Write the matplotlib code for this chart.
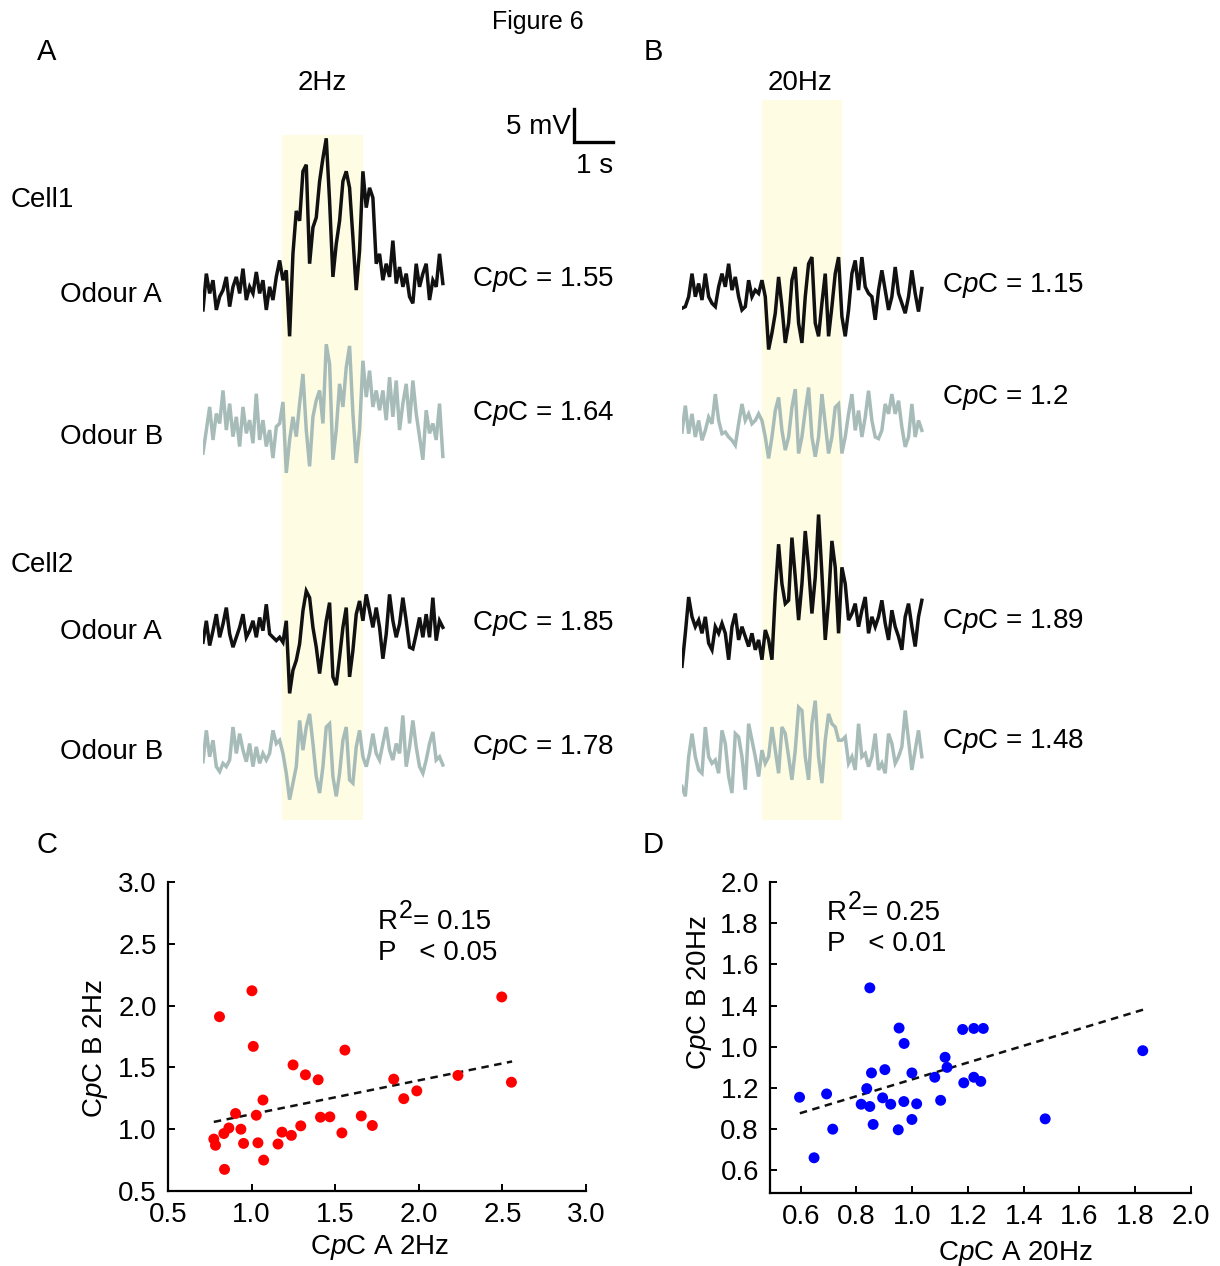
import numpy as np
import matplotlib
matplotlib.use("Agg")
import matplotlib.pyplot as plt

plt.rcParams['font.family'] = ['Liberation Sans', 'DejaVu Sans']
plt.rcParams['mathtext.fontset'] = 'custom'
plt.rcParams['mathtext.rm'] = 'Liberation Sans'
plt.rcParams['mathtext.it'] = 'Liberation Sans:italic'

# ---- membrane potential traces (mV relative to resting level), ~6.15 s each ----
trace_len = 6.15
a_cell1_odA = [-3.0, 2.5, -0.5, 1.5, -3.0, -1.0, 0, 2.0, -2.5, 0.5, 2.0, -0.5, 3.25, -1.5, 0.5,
               -0.5, 2.75, -0.5, 1.5, -3.0, 0.5, -1.5, 2.0, 4.5, 1.5, 3.0, -7.0, 5.5, 12.0, 10.5,
               18.0, 19.0, 4.0, 9.5, 11.0, 16.5, 20.0, 23.0, 13.5, 2.0, 7.0, 10.5, 16.5, 18.0, 15.5,
               8.0, 0, 6.0, 18.0, 12.5, 15.5, 14.0, 4.0, 5.5, 1.5, 4.0, 2.0, 7.5, 1.0, 3.5,
               0.5, 2.5, -1.0, -2.0, 4.0, 0.5, 2.5, 4.0, -1.5, 1.5, 0.5, 5.5, 1.0]
a_cell1_odB = [-3.5, 0, 3.5, -1.5, 2.5, 1.0, 6.0, 0, 4.0, -1.0, 2.0, -2.5, 3.5, -0.5, 1.5,
               -2.0, 5.5, -1.5, 1.5, -2.5, 0, -4.25, 0.5, 1.0, 4.25, -6.5, -1.5, 2.0, -1.0, 4.0,
               8.5, 0, -5.5, 2.0, 4.5, 6.0, 1.0, 13.0, 10.0, -4.5, 0, 7.0, 3.5, 9.5, 12.75,
               2.5, -5.0, 0, 10.5, 5.0, 9.0, 3.5, 6.0, 3.0, 6.0, 1.5, 8.0, 2.0, 7.5, 0,
               4.0, 7.0, 1.0, 7.5, 2.5, -1.0, -4.5, 3.0, -0.5, 1.0, -1.5, 4.0, -4.0]
a_cell2_odA = [-0.75, 2.5, -1.25, 1.0, 3.5, 0, 2.0, 4.5, 0.5, -1.5, 0, 1.5, 3.5, 0, 1.0,
               2.5, 0, 3.0, 1.0, 5.0, 0.5, 0, -0.5, 0, -0.75, 2.5, -8.5, -5.0, -3.5, -1.0,
               4.0, 7.0, 6.0, 1.5, -1.5, -5.5, -1.5, 2.5, 5.25, -6.0, -7.25, -3.0, 1.5, 4.5, -6.0,
               -2.0, 3.5, 5.5, 2.5, 6.5, 4.0, 1.5, 4.5, 1.5, -3.25, 0.5, 6.5, 2.5, 0, 2.0,
               6.0, 2.5, -1.5, -1.75, 0.5, 3.0, 0, 3.5, 0, 6.0, -0.5, 2.5, 1.5]
a_cell2_odB = [-0.75, 4.0, 0, 2.5, -1.5, -2.25, -1.0, -1.5, -0.5, 4.5, 0.5, 3.5, 1.0, -0.75, 2.0,
               -1.5, 1.5, -1.0, 0.5, -0.5, 0.5, 4.0, 2.0, 2.5, 0.5, -2.5, -6.5, -4.0, -1.5, 5.5,
               1.0, 4.5, 6.5, 2.0, -3.0, -5.5, -1.5, 4.5, 5.0, -3.0, -6.0, -2.5, 2.5, 4.5, -3.5,
               -4.0, 1.5, 4.0, 0, -1.5, 0.5, 3.5, 0.5, -0.5, 2.0, 4.5, 1.0, -0.5, 2.0, 0.5,
               6.25, -1.5, 1.5, 5.5, 1.5, -1.5, -2.5, -0.5, 2.0, 3.75, -0.5, 0, -1.25]
b_cell1_odA = [-1.75, -1.5, 0, 3.5, 0, 2.0, -0.5, 3.5, 0, -1.0, -1.5, 1.5, 3.5, 1.5, 5.0,
               1.0, 3.0, 0, -2.0, -1.5, 2.5, 0, 1.0, 0.5, 2.5, 0, -8.0, -5.5, -2.5, 3.0,
               -1.5, -7.0, -4.0, 2.5, 4.5, -4.0, -7.0, 0, 5.0, 6.0, -4.0, -6.0, -1.0, 3.5, -6.0,
               -1.5, 3.5, 6.0, -3.0, -6.0, -2.0, 3.5, 5.5, 1.0, 6.0, 1.5, 0.5, 0, -3.5, 1.0,
               4.0, 1.0, -2.0, 0, 4.5, 0.5, -1.0, -2.5, 0, 4.0, 0.5, -2.25, 1.25]
b_cell1_odB = [0, 4.0, -0.25, 2.75, -0.75, 1.75, -1.25, 0.25, 2.25, 1.25, 5.75, 1.75, -0.25, 0, -0.75,
               -1.25, -2.0, 1.25, 4.25, 1.75, 2.75, 1.25, 1.75, 2.75, 1.75, -0.75, -4.0, -0.75, 3.25, 5.25,
               0.25, -2.75, -0.75, 3.75, 6.5, -3.25, -0.75, 3.25, 6.75, -0.75, -3.75, -0.75, 5.75, 1.25, -3.25,
               -0.75, 3.75, 4.25, -3.25, -0.75, 2.75, 5.75, 0.25, 3.25, -0.75, 2.25, 6.25, 1.75, -0.75, -1.0,
               0.25, 4.25, 2.75, 5.75, 2.75, 4.75, 0.75, -2.25, -0.75, 4.25, -0.75, 1.75, 0.25]
b_cell2_odA = [-5.0, 0, 5.5, 2.5, 1.0, 2.0, 0, 2.5, -1.5, -2.5, 1.0, 0, 1.5, 0, -4.0,
               1.0, 3.0, -1.0, 1.0, -0.5, -2.0, 0, -2.5, -1.0, -4.0, 0.5, -1.0, -4.0, 6.0, 13.5,
               7.5, 4.5, 5.0, 14.5, 8.5, 2.0, 7.5, 15.5, 10.0, 3.0, 8.5, 18.0, 9.0, -1.0, 5.0,
               14.0, 10.0, 0, 10.0, 7.5, 2.0, 3.0, 4.5, 1.0, 3.5, 5.5, 0, 2.5, 1.0, 2.5,
               5.0, 1.5, -1.0, 3.5, 1.0, -0.5, -2.5, 2.5, 4.5, 1.0, -2.0, 2.5, 5.0]
b_cell2_odB = [-4.0, -5.5, 0.5, 4.0, 0.5, -1.5, -2.0, 5.0, 0.5, -0.5, 0, -2.0, 4.5, 2.5, -2.5,
               -5.0, 4.0, 3.5, 0.5, -4.5, 5.5, 3.0, 0.5, -2.5, 1.5, -0.5, 0.5, 5.0, 1.5, -2.0,
               5.0, 4.0, 0.5, -3.0, 1.5, 8.0, 7.5, 0.5, -3.0, 5.5, 9.0, 0.5, -3.5, 3.0, 7.0,
               5.5, 5.0, 3.0, 3.0, 3.5, -0.5, 0.5, -1.5, 5.5, 0.5, 1.0, -1.0, 0.5, 4.0, -1.5,
               -0.5, -2.0, 4.0, 2.5, -0.5, 0.5, 2.0, 7.5, 3.0, -1.5, 1.5, 4.5, 0.5]

cpc_a = ["1.55", "1.64", "1.85", "1.78"]
cpc_b = ["1.15", "1.2", "1.89", "1.48"]

# ---- panel C : CpC 2Hz ----
c_x = [0.774, 0.784, 0.808, 0.838, 0.834, 0.864, 0.904, 0.936, 0.952, 1.002, 1.01, 1.028,
       1.038, 1.068, 1.072, 1.158, 1.182, 1.238, 1.248, 1.294, 1.322, 1.398, 1.412, 1.468,
       1.54, 1.558, 1.656, 1.722, 1.85, 1.91, 1.988, 2.234, 2.496, 2.554]
c_y = [0.92, 0.87, 1.91, 0.675, 0.965, 1.01, 1.127, 1.0, 0.885, 2.12, 1.67, 1.113,
       0.89, 1.236, 0.75, 0.88, 0.976, 0.95, 1.52, 1.027, 1.44, 1.40, 1.097, 1.10,
       0.97, 1.64, 1.107, 1.03, 1.405, 1.247, 1.31, 1.435, 2.07, 1.38]
c_fit_x = [0.774, 2.558]
c_fit_y = [1.059, 1.548]

# ---- panel D : CpC 20Hz ----
d_x = [0.596, 0.648, 0.693, 0.715, 0.817, 0.837, 0.848, 0.848, 0.854, 0.86, 0.894, 0.902,
       0.923, 0.95, 0.953, 0.97, 0.971, 0.999, 0.999, 1.016, 1.081, 1.102, 1.118, 1.125,
       1.181, 1.185, 1.221, 1.221, 1.246, 1.255, 1.477, 1.827]
d_y = [0.955, 0.661, 0.971, 0.80, 0.921, 0.997, 0.91, 1.486, 1.073, 0.823, 0.952, 1.089,
       0.921, 0.797, 1.291, 0.934, 1.216, 0.847, 1.073, 0.923, 1.052, 0.94, 1.149, 1.10,
       1.284, 1.025, 1.289, 1.052, 1.032, 1.289, 0.85, 1.181]
d_fit_x = [0.597, 1.828]
d_fit_y = [0.877, 1.38]
d_yticks = [0.6, 0.8, 1.0, 1.2, 1.4, 1.6, 1.8, 2.0]
d_yticklabels = ["0.6", "0.8", "1.2", "1.0", "1.4", "1.6", "1.8", "2.0"]

W, H = 1220, 1266
fig = plt.figure(figsize=(W / 100, H / 100), dpi=100)


def fx(px):
    return px / W


def fy(py):
    return 1 - py / H


def txt(px, py, s, **kw):
    kw.setdefault('fontsize', 20)
    kw.setdefault('va', 'center')
    fig.text(fx(px), fy(py), s, **kw)


BLACK = '#111111'
GREY = '#a7bcb8'
BAND = '#fefde4'
PX_PER_S = 39.0
PX_PER_MV = 6.6


def trace_axes(left_px, band, band_y):
    ax = fig.add_axes([fx(left_px), fy(830), 417 / W, 730 / H])
    ax.set_xlim(0, 417 / PX_PER_S)
    ax.set_ylim(0, 730 / PX_PER_MV)
    ax.axis('off')
    ax.fill_between(band, band_y[0], band_y[1], color=BAND, lw=0, zorder=0)
    return ax


def draw_trace(ax, vals, base, color):
    t = np.linspace(0, trace_len, len(vals))
    ax.plot(t, base + np.array(vals), color=color, lw=2.5, solid_joinstyle='miter')


axA = trace_axes(203, [2.03, 4.10], [1.5, 105.3])
draw_trace(axA, a_cell1_odA, 81.8, BLACK)
draw_trace(axA, a_cell1_odB, 60.6, GREY)
draw_trace(axA, a_cell2_odA, 29.2, BLACK)
draw_trace(axA, a_cell2_odB, 11.1, GREY)
# scale bar 5 mV / 1 s
axA.plot([9.51, 9.51, 10.51], [109.2, 104.2, 104.2], color='black', lw=2.4,
         solid_joinstyle='miter', clip_on=False)

axB = trace_axes(682, [2.05, 4.10], [1.5, 110.6])
draw_trace(axB, b_cell1_odA, 80.8, BLACK)
draw_trace(axB, b_cell1_odB, 60.3, GREY)
draw_trace(axB, b_cell2_odA, 29.8, BLACK)
draw_trace(axB, b_cell2_odB, 10.6, GREY)

# texts of the top panels
txt(538, 22, "Figure 6", ha='center', fontsize=18)
txt(47, 52, "A", ha='center', fontsize=21)
txt(653, 52, "B", ha='center', fontsize=21)
txt(322, 83, "2Hz", ha='center')
txt(800, 83, "20Hz", ha='center')
txt(11, 200, "Cell1")
txt(11, 565, "Cell2")
for py, s in zip([295, 437, 632, 752], ["Odour A", "Odour B", "Odour A", "Odour B"]):
    txt(60, py, s)
for py, v in zip([280, 413, 623, 747], cpc_a):
    txt(472, py, r"C$\it{p}$C = " + v)
for py, v in zip([285, 398, 622, 741], cpc_b):
    txt(942, py, r"C$\it{p}$C = " + v)
txt(571, 127, "5 mV", ha='right')
txt(595, 166, "1 s", ha='center')
txt(47, 845, "C", ha='center', fontsize=21)
txt(653, 845, "D", ha='center', fontsize=21)


def stats_text(px, py, r2, p):
    txt(px, py + 1, "R")
    txt(px + 21, py - 10, "2", fontsize=18)
    txt(px + 35, py + 1, "= " + r2)
    txt(px, py + 32, "P   < " + p)


def style_scatter(ax):
    for s in ['top', 'right']:
        ax.spines[s].set_visible(False)
    for s in ['left', 'bottom']:
        ax.spines[s].set_linewidth(1.6)
    ax.tick_params(direction='in', length=5, width=1.4, labelsize=20, pad=8)


# panel C
axC = fig.add_axes([fx(168), fy(1191), 418 / W, 309 / H])
axC.scatter(c_x, c_y, s=62, color='#ff0000', edgecolors='none', zorder=3)
axC.plot(c_fit_x, c_fit_y, ls=(0, (3, 2.2)), color='#111111', lw=1.8, zorder=2)
axC.set_xlim(0.5, 3.0)
axC.set_ylim(0.5, 3.0)
axC.set_xticks([0.5, 1.0, 1.5, 2.0, 2.5, 3.0])
axC.set_yticks([0.5, 1.0, 1.5, 2.0, 2.5, 3.0])
style_scatter(axC)
stats_text(378, 921, "0.15", "0.05")
txt(95, 1048, r"C$\it{p}$C B 2Hz", ha='center', rotation=90)
txt(380, 1248, r"C$\it{p}$C A 2Hz", ha='center')

# panel D
axD = fig.add_axes([fx(770), fy(1193), 421 / W, 311 / H])
axD.scatter(d_x, d_y, s=62, color='#0000ff', edgecolors='none', zorder=3)
axD.plot(d_fit_x, d_fit_y, ls=(0, (3, 2.2)), color='#111111', lw=1.8, zorder=2)
axD.set_xlim(0.49, 2.0)
axD.set_ylim(0.49, 2.0)
axD.set_xticks([0.6, 0.8, 1.0, 1.2, 1.4, 1.6, 1.8, 2.0])
axD.set_xticklabels(["0.6", "0.8", "1.0", "1.2", "1.4", "1.6", "1.8", "2.0"])
axD.set_yticks(d_yticks)
axD.set_yticklabels(d_yticklabels)
style_scatter(axD)
stats_text(827, 912, "0.25", "0.01")
txt(700, 993, r"C$\it{p}$C B 20Hz", ha='center', rotation=90)
txt(1015, 1253, r"C$\it{p}$C A 20Hz", ha='center')

fig.savefig("out.png", dpi=100)
